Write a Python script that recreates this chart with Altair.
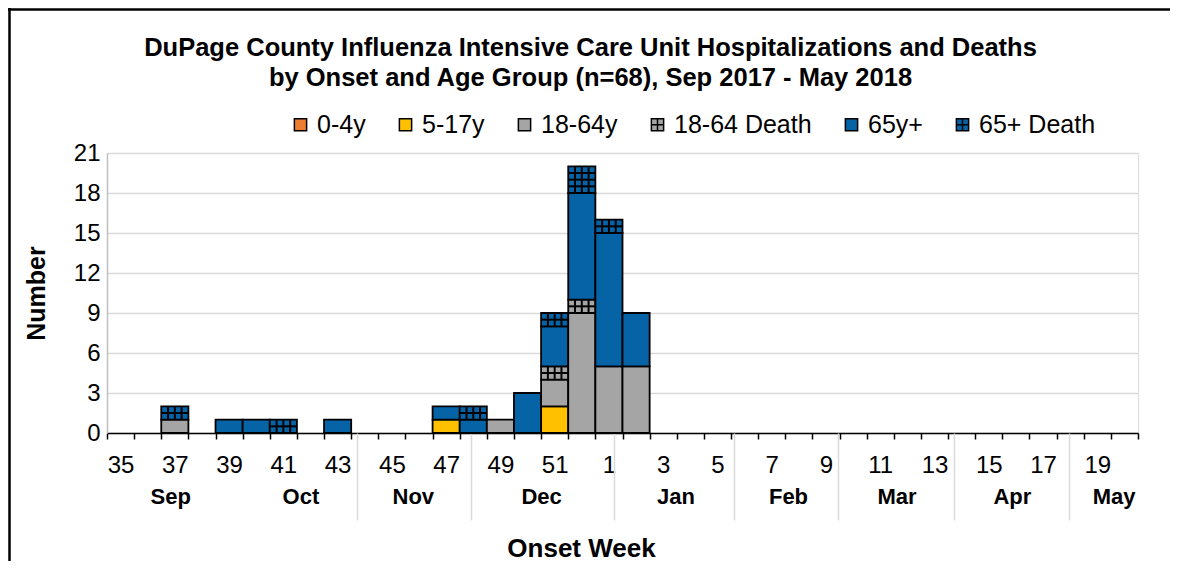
import json
import altair as alt
import pandas as pd

# ---------------- data ----------------
weeks = [35, 36, 37, 38, 39, 40, 41, 42, 43, 44, 45, 46, 47, 48, 49, 50, 51, 52,
         1, 2, 3, 4, 5, 6, 7, 8, 9, 10, 11, 12, 13, 14, 15, 16, 17, 18, 19, 20]

categories = ["0-4y", "5-17y", "18-64y", "18-64 Death", "65y+", "65+ Death"]
colors = ["#ED7D31", "#FFC000", "#A5A5A5", "#A5A5A5", "#0563A6", "#0563A6"]
death_categories = ["18-64 Death", "65+ Death"]

#             35 36 37 38 39 40 41 42 43 44 45 46 47 48 49 50 51 52  1  2  3  4  5  6  7  8  9 10 11 12 13 14 15 16 17 18 19 20
age_0_4    = [0, 0, 0, 0, 0, 0, 0, 0, 0, 0, 0, 0, 0, 0, 0, 0, 0, 0, 0, 0, 0, 0, 0, 0, 0, 0, 0, 0, 0, 0, 0, 0, 0, 0, 0, 0, 0, 0]
age_5_17   = [0, 0, 0, 0, 0, 0, 0, 0, 0, 0, 0, 0, 1, 0, 0, 0, 2, 0, 0, 0, 0, 0, 0, 0, 0, 0, 0, 0, 0, 0, 0, 0, 0, 0, 0, 0, 0, 0]
age_18_64  = [0, 0, 1, 0, 0, 0, 0, 0, 0, 0, 0, 0, 0, 0, 1, 0, 2, 9, 5, 5, 0, 0, 0, 0, 0, 0, 0, 0, 0, 0, 0, 0, 0, 0, 0, 0, 0, 0]
death_18_64 = [0, 0, 0, 0, 0, 0, 0, 0, 0, 0, 0, 0, 0, 0, 0, 0, 1, 1, 0, 0, 0, 0, 0, 0, 0, 0, 0, 0, 0, 0, 0, 0, 0, 0, 0, 0, 0, 0]
age_65     = [0, 0, 0, 0, 1, 1, 0, 0, 1, 0, 0, 0, 1, 1, 0, 3, 3, 8, 10, 4, 0, 0, 0, 0, 0, 0, 0, 0, 0, 0, 0, 0, 0, 0, 0, 0, 0, 0]
death_65   = [0, 0, 1, 0, 0, 0, 1, 0, 0, 0, 0, 0, 0, 1, 0, 0, 1, 2, 1, 0, 0, 0, 0, 0, 0, 0, 0, 0, 0, 0, 0, 0, 0, 0, 0, 0, 0, 0]

series = {
    "0-4y": age_0_4,
    "5-17y": age_5_17,
    "18-64y": age_18_64,
    "18-64 Death": death_18_64,
    "65y+": age_65,
    "65+ Death": death_65,
}

months = ["Sep", "Oct", "Nov", "Dec", "Jan", "Feb", "Mar", "Apr", "May"]
month_label_pos = [2.33, 7.13, 11.27, 16.0, 20.95, 25.1, 29.1, 33.35, 37.1]
month_separator_pos = [9.2, 13.4, 18.7, 23.1, 26.95, 31.2, 35.45]

y_ticks = [0, 3, 6, 9, 12, 15, 18, 21]

# ---------------- derived tables ----------------
rows = []
pattern = []
for i, w in enumerate(weeks):
    base = 0
    for c in categories:
        v = series[c][i]
        if v > 0:
            rows.append(dict(week=w, x0=i, x1=i + 1, cat=c, n=v, y0=base, y1=base + v))
            if c in death_categories:
                for f in (0.25, 0.5, 0.75):
                    pattern.append(dict(x0=i + f, x1=i + f, y0=base, y1=base + v))
                k = 1
                while k < 2 * v:
                    pattern.append(dict(x0=i, x1=i + 1, y0=base + 0.5 * k, y1=base + 0.5 * k))
                    k += 1
            base += v
bars_df = pd.DataFrame(rows)
pattern_df = pd.DataFrame(pattern)
legend_df = pd.DataFrame({"cat": categories})

# ---------------- layout ----------------
W, H = 1031, 280
PAD_L, PAD_T, PAD_R, PAD_B = 99, 145, 34, 128
FONT = "Liberation Sans"
n_cat = len(weeks)
half_band = W / n_cat / 2

x_scale = alt.Scale(domain=[0, n_cat], nice=False, zero=False)
y_scale = alt.Scale(domain=[0, 21], nice=False)
fill_scale = alt.Scale(domain=categories, range=colors)

square = "M-1,-1H1V1H-1Z"
grid_sq = "M-1,-1H1V1H-1Z M0,-1V1 M-1,0H1"
shapes = [grid_sq if c in death_categories else square for c in categories]
shape_scale = alt.Scale(domain=categories, range=shapes)

week_labels = [str(w) if w % 2 == 1 else "" for w in weeks] + [""]

week_axis = alt.Axis(
    orient="bottom", values=list(range(n_cat + 1)),
    labelExpr=f"{json.dumps(week_labels)}[datum.value]",
    labelOffset=half_band, labelAngle=0, labelOverlap=False, labelFlush=False, labelBound=False,
    tickSize=6, tickColor="black", tickWidth=1.5,
    domainColor="black", domainWidth=1.5, grid=False,
    labelFont=FONT, labelFontSize=24, labelColor="black", labelPadding=14, title=None,
)

month_axis = alt.Axis(
    orient="bottom", values=month_label_pos,
    labelExpr=f"{json.dumps(months)}[indexof({json.dumps(month_label_pos)}, datum.value)]",
    ticks=False, domain=False, grid=False, labelAngle=0,
    labelOverlap=False, labelFlush=False, labelBound=False,
    labelFont=FONT, labelFontSize=22, labelFontWeight="bold", labelColor="black",
    labelPadding=53, title=None,
)

sep_axis = alt.Axis(
    orient="bottom", values=month_separator_pos, labels=False,
    ticks=True, tickSize=87, tickColor="#D9D9D9", tickWidth=1.5,
    domain=False, grid=False,
    title="Onset Week", titleFont=FONT, titleFontSize=26, titleFontWeight="bold",
    titleColor="black", titleBaseline="alphabetic", titleAnchor="start",
    titleAlign="center", titleX=474, titleY=123,
)

y_axis = alt.Axis(
    values=y_ticks, grid=True, gridColor="#D9D9D9", gridWidth=1.5,
    domainColor="#BFBFBF", domainWidth=1.5, ticks=False,
    labelFont=FONT, labelFontSize=24, labelColor="black", labelPadding=7,
    title="Number", titleFont=FONT, titleFontSize=25, titleFontWeight="bold",
    titleColor="black", titlePadding=24,
)

legend = alt.Legend(
    orient="none", legendX=181, legendY=-41, direction="horizontal", title=None,
    labelFont=FONT, labelFontSize=25, labelColor="black", labelLimit=300,
    symbolSize=150, symbolStrokeColor="black", symbolStrokeWidth=1.5,
    columnPadding=27, labelOffset=4,
)

bars = alt.Chart(bars_df).mark_bar(stroke="black", strokeWidth=1.8).encode(
    x=alt.X("x0:Q", scale=x_scale, axis=week_axis),
    x2="x1:Q",
    y=alt.Y("y0:Q", scale=y_scale, axis=y_axis),
    y2="y1:Q",
    fill=alt.Fill("cat:N", scale=fill_scale, legend=legend),
)

pattern_layer = alt.Chart(pattern_df).mark_rule(color="black", strokeWidth=2).encode(
    x=alt.X("x0:Q", scale=x_scale, axis=None),
    x2="x1:Q",
    y=alt.Y("y0:Q", scale=y_scale, axis=y_axis),
    y2="y1:Q",
)

month_layer = alt.Chart(pd.DataFrame({"pos": month_label_pos})).mark_point(opacity=0).encode(
    x=alt.X("pos:Q", scale=x_scale, axis=month_axis),
)

sep_layer = alt.Chart(pd.DataFrame({"pos": month_separator_pos})).mark_point(opacity=0).encode(
    x=alt.X("pos:Q", scale=x_scale, axis=sep_axis),
)

legend_layer = alt.Chart(legend_df).transform_filter("false").mark_point(
    filled=True, stroke="black", strokeWidth=1.5, size=150, opacity=1
).encode(
    fill=alt.Fill("cat:N", scale=fill_scale, legend=legend),
    shape=alt.Shape("cat:N", scale=shape_scale, legend=legend),
)

# chart-area border (left and top edges, as in the reference)
frame_top = alt.Chart(pd.DataFrame({"k": [0]})).mark_rule(color="black", strokeWidth=2.5).encode(
    x=alt.value(-PAD_L), x2=alt.value(W + PAD_R - 2), y=alt.value(-PAD_T + 1.5),
)
frame_left = alt.Chart(pd.DataFrame({"k": [0]})).mark_rule(color="black", strokeWidth=2.5).encode(
    x=alt.value(-PAD_L + 1.5), y=alt.value(-PAD_T), y2=alt.value(H + PAD_B),
)

chart = alt.layer(
    bars, pattern_layer, month_layer, sep_layer, legend_layer, frame_top, frame_left
).resolve_axis(
    x="independent"
).properties(
    width=W, height=H,
    title=alt.TitleParams(
        text=["DuPage County Influenza Intensive Care Unit Hospitalizations and Deaths",
              "by Onset and Age Group (n=68), Sep 2017 - May 2018"],
        font=FONT, fontSize=25.5, fontWeight="bold", color="black",
        lineHeight=30, anchor="middle", dx=-32, offset=14, dy=99,
    ),
    autosize=alt.AutoSizeParams(type="none"),
    padding={"left": PAD_L, "top": PAD_T, "right": PAD_R, "bottom": PAD_B},
).configure_view(strokeWidth=0).configure(background="white")

chart.save("out.html", embed_options={"renderer": "svg", "actions": False})
